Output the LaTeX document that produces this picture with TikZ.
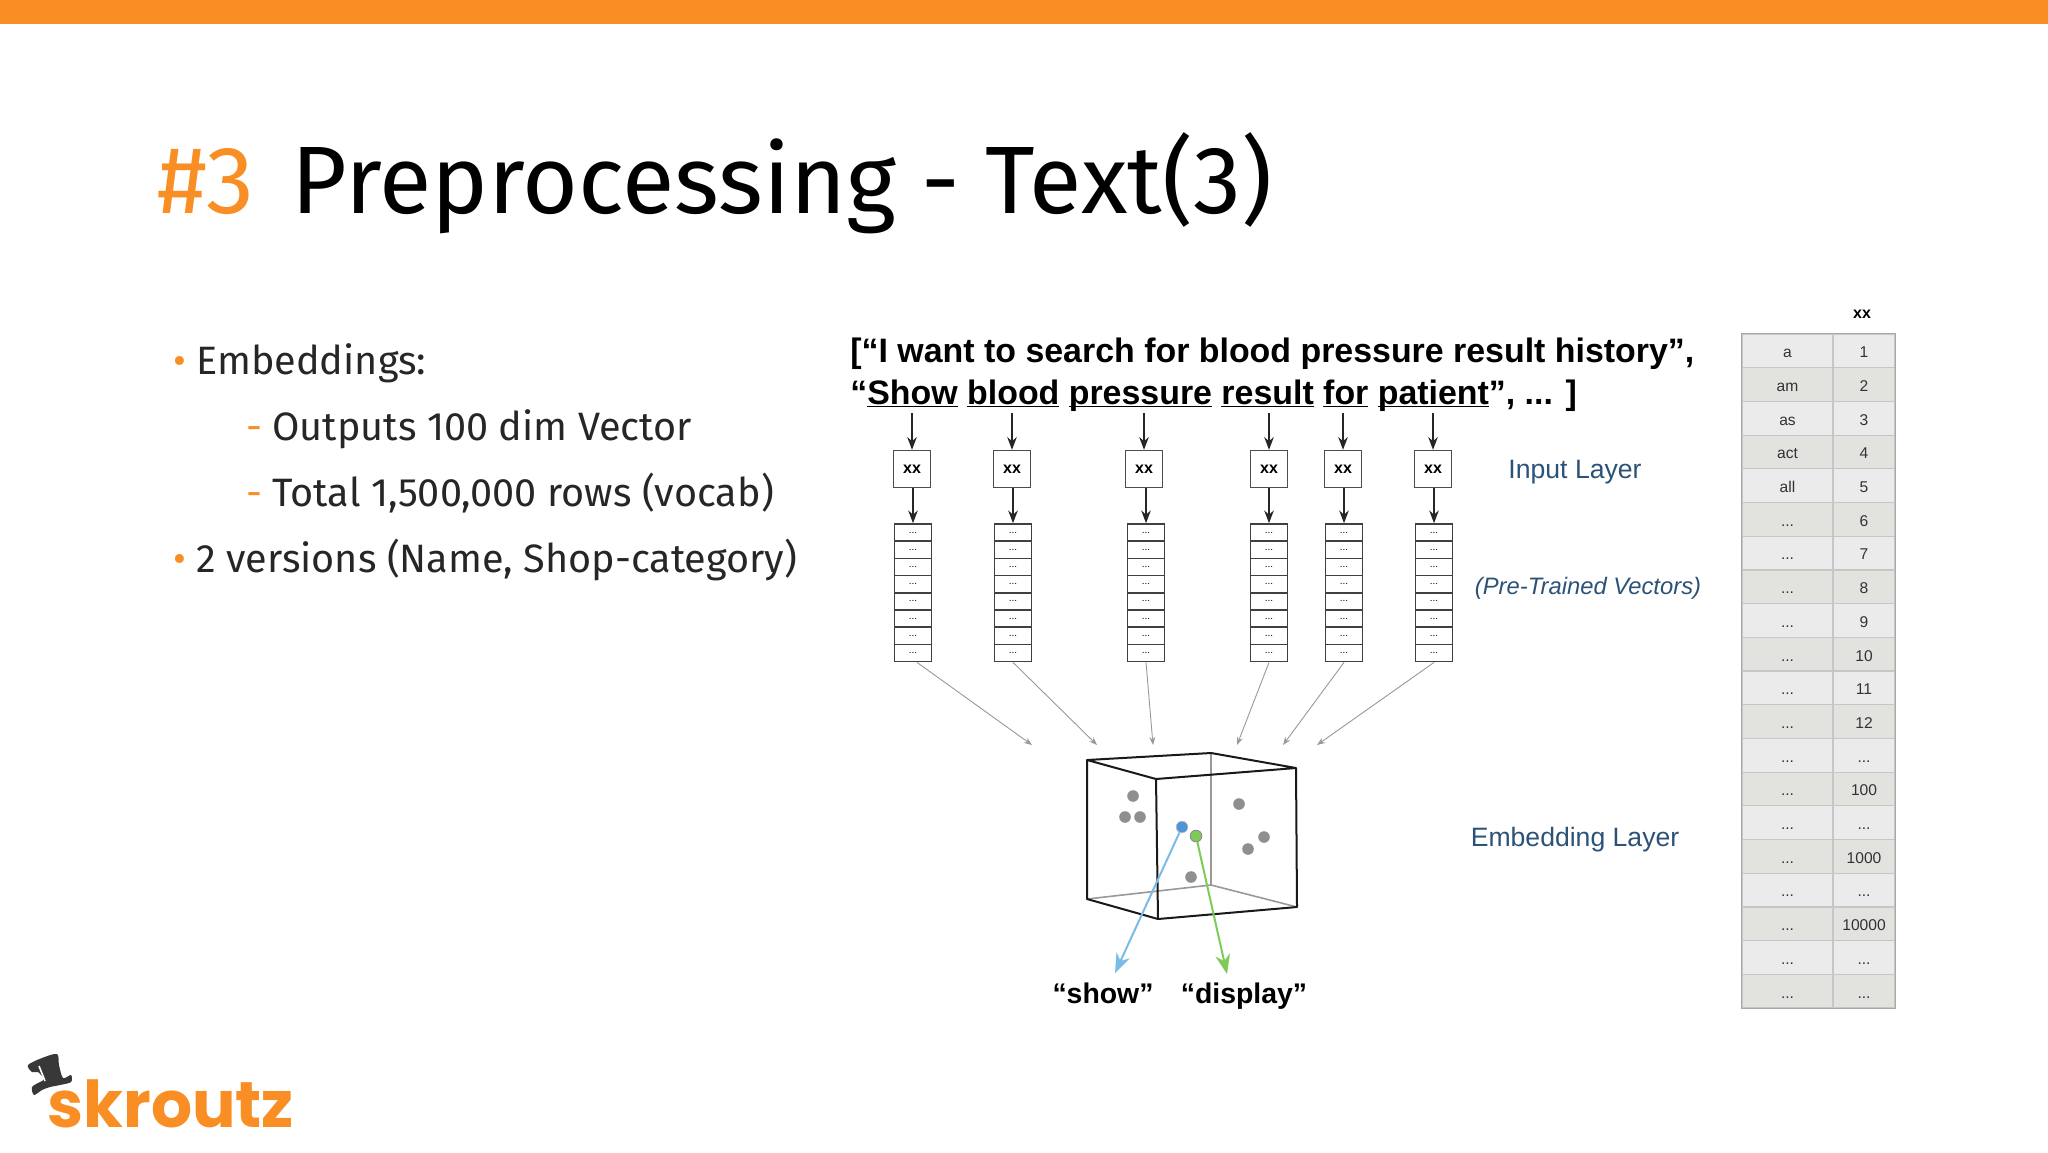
\documentclass[tikz,border=0pt]{standalone}
\usepackage{fontspec}
\setmainfont{Fira Sans}
\newfontfamily\figfont{Liberation Sans}
\newfontfamily\logofont{Poppins}
\usepackage{xcolor}
\usetikzlibrary{arrows.meta, positioning, calc}
\definecolor{brandorange}{HTML}{F98E25}
\definecolor{layerblue}{HTML}{2C5278}
\definecolor{rowlight}{HTML}{ECEBEC}
\definecolor{rowdark}{HTML}{E2E2DF}
\definecolor{tablegrid}{HTML}{C6C6C6}
\definecolor{tableframe}{HTML}{A8A8A8}
\definecolor{dotgrey}{HTML}{8F8F8F}
\definecolor{showblue}{HTML}{79BCE8}
\definecolor{showdot}{HTML}{4F94D6}
\definecolor{displaygreen}{HTML}{7FCB5A}
\newcommand{\dd}{...}
\newcommand{\wordline}[1]{\underline{\smash{#1}}}

\begin{document}
\begin{tikzpicture}[
    x=0.5pt, y=-0.5pt,
    bullet/.style={anchor=base west, inner sep=0, font=\fontsize{19.8}{24}\selectfont, text=black!85},
    bulletmark/.style={anchor=base west, inner sep=0, font=\fontsize{19.8}{24}\selectfont, text=brandorange},
    sentence/.style={anchor=base west, inner sep=0, font=\figfont\bfseries\fontsize{16.95}{20}\selectfont},
    inputbox/.style={rectangle, draw=black!70, line width=0.7pt, fill=white, minimum width=18.5pt, minimum height=18.5pt, inner sep=0, font=\figfont\bfseries\fontsize{8}{9}\selectfont},
    cell/.style={rectangle, draw=black!75, line width=0.8pt, fill=white, minimum width=18.5pt, minimum height=8.6pt, inner sep=0, font=\figfont\fontsize{5}{5}\selectfont},
    layer/.style={inner sep=0, text=layerblue, font=\figfont\fontsize{13.3}{15}\selectfont},
    tablecell/.style={rectangle, draw=tablegrid, line width=0.6pt, inner sep=0, minimum height=16.85pt, text=black!80, text height=1.5ex, text depth=0.2ex, font=\figfont\fontsize{7.8}{9}\selectfont},
    line/.style={-{Stealth[scale=0.9]}, line width=0.9pt, black!85},
    thinline/.style={-{Stealth[scale=0.8]}, line width=0.45pt, black!40},
    colourline/.style={-{Stealth[scale=1.3]}, line width=1pt},
    cubeedge/.style={line width=1pt, black!90, line join=round},
    hidden/.style={line width=0.8pt, black!40},
    dot/.style={circle, fill=dotgrey, minimum size=5.8pt, inner sep=0},
    wordlabel/.style={anchor=base, inner sep=0, font=\figfont\bfseries\fontsize{14.2}{16}\selectfont}
]
    \useasboundingbox (0,0) rectangle (2048,1152);
    \fill[white] (0,0) rectangle (2048,1152);

    % Slide head
    \node[anchor=north west, fill=brandorange, minimum width=1024pt, minimum height=12pt, inner sep=0] (bar) at (0,0) {};
    \node[anchor=base west, inner sep=0, font=\fontsize{47.9}{54}\selectfont] (title) at (157,213) {\textcolor{brandorange}{\#3}\hspace{6pt} Preprocessing - Text(3)};

    % Bullets
    \node[bulletmark] (m1) at (173,374) {•};
    \node[bullet] (b1) at (196,374) {Embeddings:};
    \node[bulletmark] (m2) at (246,440) {-};
    \node[bullet] (b2) at (272,440) {Outputs 100 dim Vector};
    \node[bulletmark] (m3) at (246,506) {-};
    \node[bullet] (b3) at (272,506) {Total 1,500,000 rows (vocab)};
    \node[bulletmark] (m4) at (173,572) {•};
    \node[bullet] (b4) at (196,572) {2 versions (Name, Shop-category)};

    % Sentences
    \node[sentence] (line1) at (850,362) {[“I want to search for blood pressure result history”,};
    \node[sentence] (line2) at (850,404) {“\wordline{Show} \wordline{blood} \wordline{pressure} \wordline{result} \wordline{for} \wordline{patient}”, ... ]};

    % Columns
    \foreach \i/\xa/\xb/\tip/\off in {1/912/913/1032/4, 2/1012/1013/1097/0, 3/1144/1146/1153/0, 4/1269/1269/1237/0, 5/1343/1344/1283/0, 6/1433/1434/1317/0} {
        \coordinate (top\i) at (\xa,413);
        \coordinate (tip\i) at (\tip,745);
        \node[inputbox] (in\i) at (\xa,469) {xx};
        \foreach \k in {1,...,8} {
            \node[cell] (s\i-\k) at (\xb,{524+8.6+17.2*(\k-1)}) {\dd};
        }
        \draw[line] (top\i) -- (in\i);
        \draw[line] (in\i.south -| s\i-1.north) -- (s\i-1.north);
        \draw[thinline] ([xshift=\off*0.5pt]s\i-8.south) -- (tip\i);
    }

    % Layer names
    \node[layer] (input) at (1575,472) {Input Layer};
    \node[layer, font=\figfont\itshape\fontsize{11.9}{14}\selectfont] (pretrained) at (1588,588) {(Pre-Trained Vectors)};
    \node[layer] (embedding) at (1575,840) {Embedding Layer};

    % Cube
    \coordinate (btl) at (1087,760);
    \coordinate (btb) at (1211,753);
    \coordinate (btr) at (1296,768);
    \coordinate (btf) at (1156,779);
    \coordinate (bbl) at (1087,899);
    \coordinate (bbb) at (1211,885);
    \coordinate (bbr) at (1297,907);
    \coordinate (bbf) at (1158,919);
    \draw[hidden] (btb) -- (bbb);
    \draw[hidden] (bbl) -- (bbb) -- (bbr);
    \draw[cubeedge] (btl) -- (btb) -- (btr) -- (btf) -- cycle;
    \draw[cubeedge] (btl) -- (bbl) -- (bbf) -- (bbr) -- (btr);
    \draw[cubeedge] (btf) -- (bbf);
    \foreach \n/\px/\py in {1/1133/796, 2/1125/817, 3/1140/817, 4/1239/804, 5/1264/837, 6/1248/849, 7/1191/877} {
        \node[dot] (d\n) at (\px,\py) {};
    }
    \coordinate (tipshow) at (1115,973);
    \coordinate (tipdisplay) at (1227,974);
    \node[dot, fill=showdot, draw=dotgrey!60, line width=0.3pt] (dshow) at (1182,827) {};
    \node[dot, fill=displaygreen, draw=dotgrey, line width=0.5pt] (ddisplay) at (1196,836) {};
    \draw[colourline, showblue] (dshow) -- (tipshow);
    \draw[colourline, displaygreen] (ddisplay) -- (tipdisplay);
    \node[wordlabel] (wshow) at (1103,1003) {“show”};
    \node[wordlabel] (wdisplay) at (1244,1003) {“display”};

    % Table
    \node[inner sep=0, font=\figfont\bfseries\fontsize{8}{9}\selectfont] (head) at (1862,314) {xx};
    \foreach \a/\b [count=\n] in {a/1, am/2, as/3, act/4, all/5, \dd/6, \dd/7, \dd/8, \dd/9, \dd/10, \dd/11, \dd/12, \dd/\dd, \dd/100, \dd/\dd, \dd/1000, \dd/\dd, \dd/10000, \dd/\dd, \dd/\dd} {
        \ifodd\n\def\rowfill{rowlight}\else\def\rowfill{rowdark}\fi
        \node[tablecell, fill=\rowfill, minimum width=45.5pt] (ta\n) at (1787.5,{334+33.7*(\n-0.5)}) {\a};
        \node[tablecell, fill=\rowfill, minimum width=31pt] (tb\n) at (1864,{334+33.7*(\n-0.5)}) {\b};
    }
    \draw[tableframe, line width=0.8pt] (ta1.north west) rectangle (tb20.south east);

    % Logo
    \fill[black!78] plot[smooth cycle, tension=0.5] coordinates {(28,1065) (42,1058) (57,1054) (59,1065) (63,1078) (71,1075) (71,1082) (60,1085) (50,1087) (42,1090) (34,1095) (32,1087) (40,1082) (44,1079) (38,1072) (32,1072)};
    \draw[white, line width=0.8pt] (39,1066) -- (45,1081);
    \node[anchor=base west, inner sep=0, text=brandorange, font=\logofont\bfseries\fontsize{32.3}{36}\selectfont] (logo) at (47,1127) {skroutz};
\end{tikzpicture}
\end{document}
